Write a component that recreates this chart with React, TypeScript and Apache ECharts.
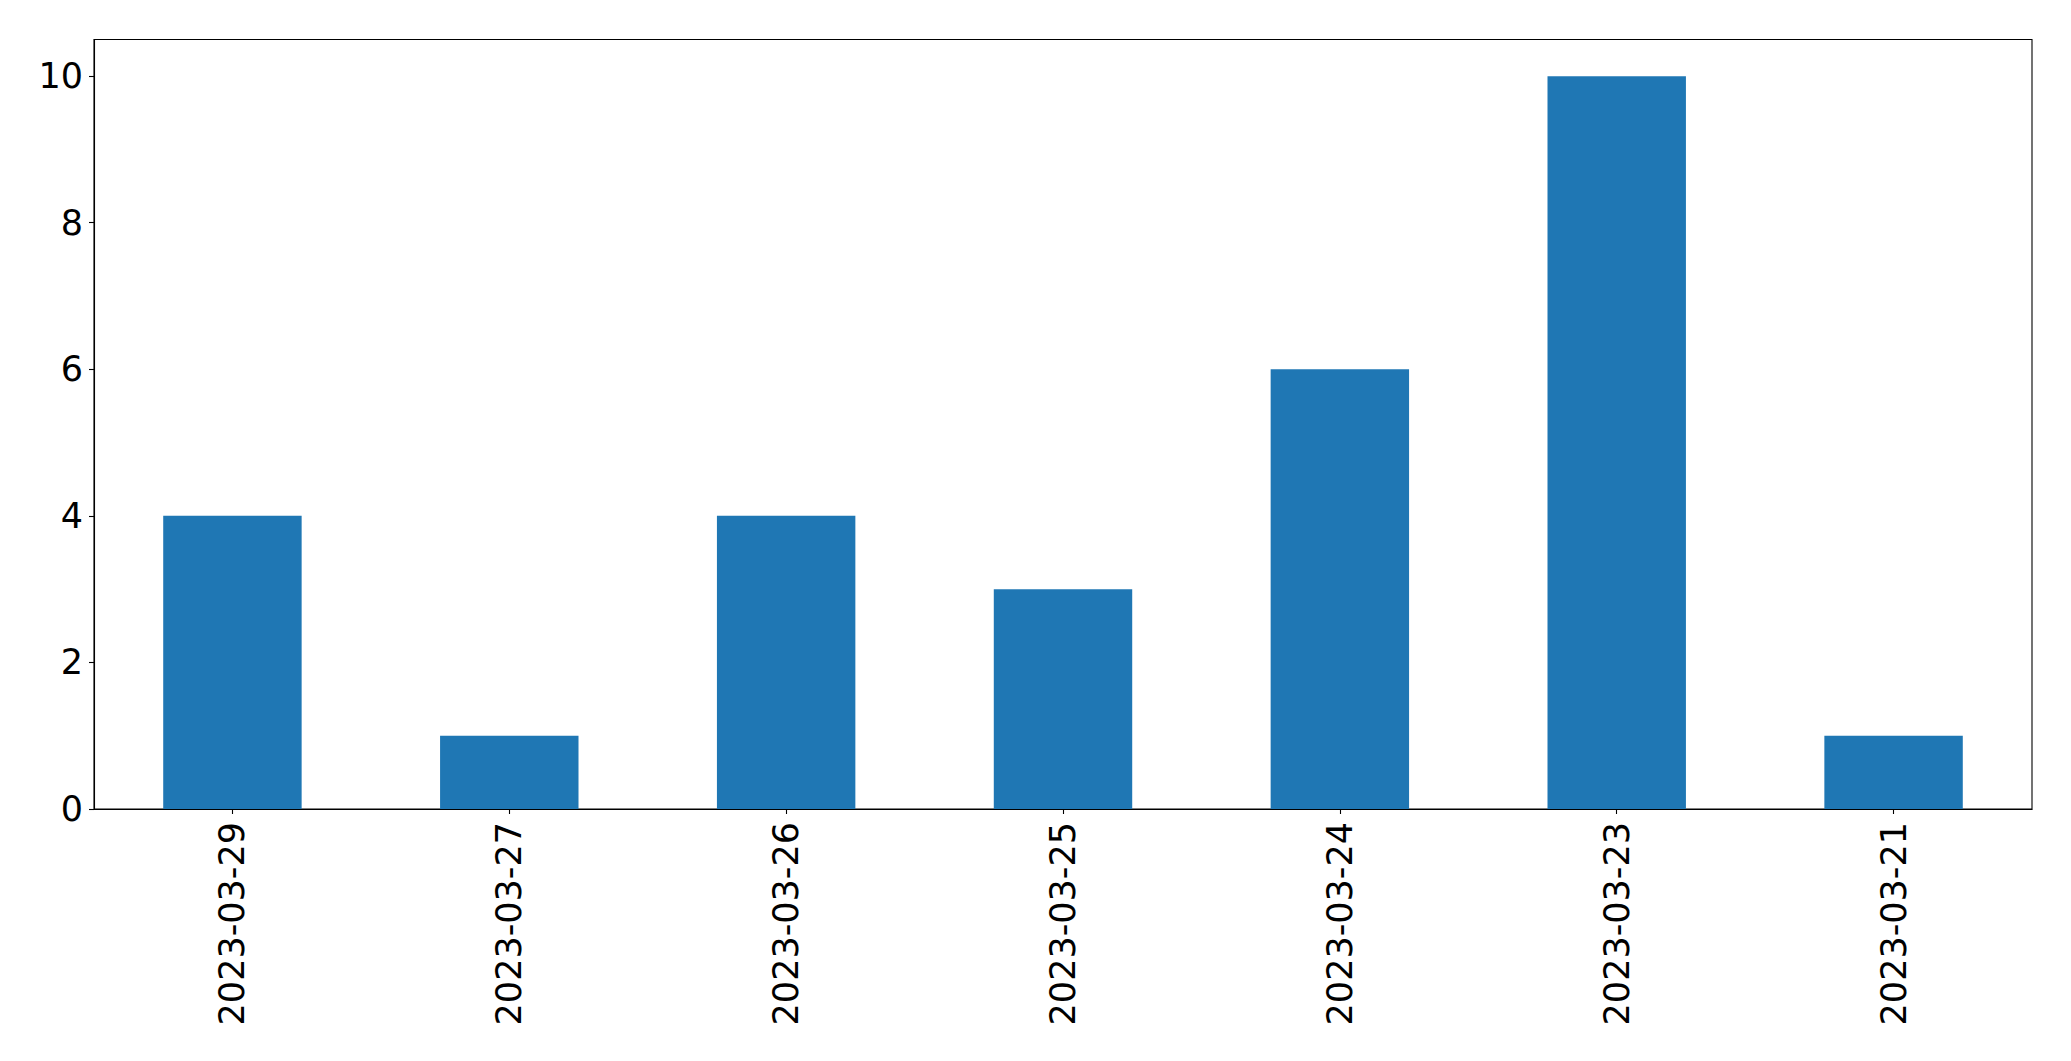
import React, { useEffect, useRef } from "react";
import * as echarts from "echarts";

const categories = ["2023-03-29", "2023-03-27", "2023-03-26", "2023-03-25", "2023-03-24", "2023-03-23", "2023-03-21"];
const counts = [4, 1, 4, 3, 6, 10, 1];
const yTicks = [0, 2, 4, 6, 8, 10];

export default function App() {
  const ref = useRef<HTMLDivElement>(null);
  useEffect(() => {
    document.body.style.margin = "0";
    const chart = echarts.init(ref.current!, null, { renderer: "svg" });
    const font = "DejaVu Sans";
    chart.setOption({
      animation: false,
      backgroundColor: "#ffffff",
      textStyle: { fontFamily: font },
      grid: {
        left: 94,
        top: 39.5,
        right: 39,
        bottom: 252,
        show: true,
        borderColor: "#000000",
        borderWidth: 1.1,
        backgroundColor: "transparent",
      },
      xAxis: {
        type: "category",
        data: categories,
        axisLine: { show: true, lineStyle: { color: "#000000", width: 1.1 } },
        axisTick: { show: true, alignWithLabel: true, length: 5, lineStyle: { color: "#000000", width: 1.1 } },
        axisLabel: { rotate: 90, fontSize: 35, color: "#000000", fontFamily: font, margin: 13 },
        splitLine: { show: false },
      },
      yAxis: {
        type: "value",
        min: 0,
        max: 10.5,
        interval: 2,
        axisLine: { show: true, lineStyle: { color: "#000000", width: 1.1 } },
        axisTick: { show: true, length: 5, lineStyle: { color: "#000000", width: 1.1 }, customValues: yTicks },
        axisLabel: {
          fontSize: 35,
          color: "#000000",
          fontFamily: font,
          margin: 11,
          customValues: yTicks,
          formatter: (v: number) => (v % 2 === 0 ? String(v) : ""),
        },
        splitLine: { show: false },
      },
      series: [
        {
          type: "bar",
          data: counts,
          barWidth: "50%",
          itemStyle: { color: "#1f77b4" },
        },
      ],
    });
    return () => chart.dispose();
  }, []);
  return <div ref={ref} style={{ position: "fixed", left: 0, top: 0, width: 2071, height: 1061 }} />;
}
